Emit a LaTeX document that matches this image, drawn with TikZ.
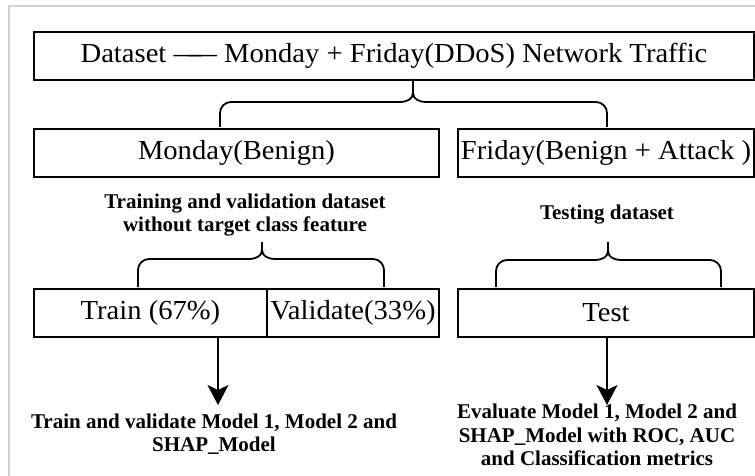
\documentclass[tikz,border=0pt]{standalone}
\usepackage{fontspec}
\setmainfont{Liberation Serif}
\newfontfamily\boxfont{Liberation Serif}[FakeStretch=1.04]
\usetikzlibrary{arrows.meta,calc}
\tikzset{
  box/.style={draw=black, line width=2pt, inner sep=0pt, anchor=north west,
    font=\boxfont\fontsize{27.5}{32}\selectfont},
  lbl/.style={align=center, inner sep=0pt,
    font=\fontsize{21}{23.5}\selectfont\bfseries},
  brace/.style={draw=black, line width=1.8pt, rounded corners=11pt},
  arr/.style={draw=black, line width=2pt,
    -{Stealth[length=20pt, width=21pt, inset=5pt]}},
  frame/.style={draw=black!18, line width=1.8pt}
}
\newcommand\mybrace[6]{% left, tip x, right, top y, horizontal y, bottom y
  \draw[brace] (#1,#6) -- (#1,#5) -- ({#2-12},#5);
  \draw[brace] (#3,#6) -- (#3,#5) -- ({#2+12},#5);
  \draw[black, line width=1.8pt] ({#2-12.5},#5) to[out=0,in=-90] (#2,{#5-9}) -- (#2,#4);
  \draw[black, line width=1.8pt] ({#2+12.5},#5) to[out=180,in=-90] (#2,{#5-9});
}
\begin{document}
\begin{tikzpicture}[x=1pt,y=-1pt]
\useasboundingbox (0,0) rectangle (755,476);
\draw[frame] (9,476) -- (9,6) -- (755,6);

% boxes
\node[box, minimum width=720pt, minimum height=48pt] (dataset) at (33,31)
  {Dataset {—\kern-0.5em—} Monday + Friday(DDoS) Network Traffic};
\node[box, minimum width=405pt, minimum height=48pt] (monday) at (33,128) {Monday(Benign)};
\node[box, minimum width=296pt, minimum height=48pt] (friday) at (457,128) {Friday(Benign + Attack )};
\node[box, minimum width=233pt, minimum height=48pt] (train) at (33,288) {Train (67\%)};
\node[box, minimum width=172pt, minimum height=48pt] (valid) at (266,288) {Validate(33\%)};
\node[box, minimum width=296pt, minimum height=48pt] (test) at (457,288) {Test};

% labels
\node[lbl] (trainval) at (245,215) {Training and validation dataset\\without target class feature};
\node[lbl] (testing) at (607,215) {Testing dataset};
\node[lbl] (res1) at (214,434) {Train and validate Model 1, Model 2 and\\SHAP\_Model};
\node[lbl] (res2) at (597,435) {Evaluate Model 1, Model 2 and\\SHAP\_Model with ROC, AUC\\and Classification metrics};

% braces
\mybrace{220}{413}{607}{79}{102}{127}
\mybrace{138}{262}{384}{242}{259}{287}
\mybrace{496}{608}{721}{242}{260}{287}

% arrows
\coordinate (a1) at (218,405);
\coordinate (a2) at (607,405);
\draw[arr] (train.south -| a1) -- (a1);
\draw[arr] (test.south -| a2) -- (a2);
\end{tikzpicture}
\end{document}
